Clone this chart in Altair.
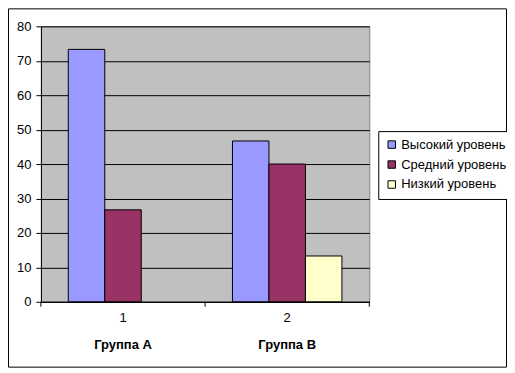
import altair as alt
import pandas as pd

groups = ["1", "2"]
group_names = ["Группа А", "Группа В"]
series = ["Высокий уровень", "Средний уровень", "Низкий уровень"]
values_a = [73.3, 26.7, 0.0]
values_b = [46.7, 40.0, 13.3]
colors = ["#9999FF", "#993366", "#FFFFCC"]
y_ticks = [0, 10, 20, 30, 40, 50, 60, 70, 80]

rows = []
for g, vals in zip(groups, [values_a, values_b]):
    for s, v in zip(series, vals):
        rows.append({"group": g, "series": s, "value": v})
df = pd.DataFrame(rows)
names_df = pd.DataFrame({"group": groups, "name": group_names})

W, H = 329, 276
PAD = {"left": 33, "top": 18, "right": 138, "bottom": 66}
FONT = "Liberation Sans"
FS = 13

x_enc = alt.X("group:N", sort=groups,
              scale=alt.Scale(paddingInner=0, paddingOuter=0),
              axis=alt.Axis(title=None, labelAngle=0, ticks=False, labelPadding=10,
                            domainColor="black", labelFont=FONT, labelFontSize=FS,
                            labelColor="black", grid=False))

bars = alt.Chart(df).transform_filter("datum.value > 0").mark_bar(
    stroke="black", strokeWidth=1).encode(
    x=x_enc,
    xOffset=alt.XOffset("series:N", sort=series,
                        scale=alt.Scale(domain=series, paddingOuter=0.75, paddingInner=0)),
    y=alt.Y("value:Q", scale=alt.Scale(domain=[0, 80], nice=False),
            axis=alt.Axis(title=None, values=y_ticks, tickSize=5, tickColor="black",
                          domainColor="black", gridColor="black", gridOpacity=1,
                          labelPadding=5, labelFont=FONT, labelFontSize=FS,
                          labelColor="black")),
    color=alt.Color("series:N", sort=series,
                    scale=alt.Scale(domain=series, range=colors),
                    legend=alt.Legend(title=None, orient="none", legendX=338, legendY=105,
                                      strokeColor="black", padding=7, fillColor="white",
                                      symbolType="square", symbolSize=56,
                                      symbolStrokeColor="black", symbolStrokeWidth=1,
                                      symbolOpacity=1, labelFont=FONT, labelFontSize=FS,
                                      labelColor="black", rowPadding=6, labelOffset=3)),
)

names = alt.Chart(names_df).mark_text(
    font=FONT, fontSize=FS, fontWeight="bold", baseline="top", color="black"
).encode(x=alt.X("group:N", sort=groups), y=alt.value(H + 37), text="name:N")

ticks = alt.Chart(names_df).mark_rule(color="black").encode(
    x=alt.X("group:N", sort=groups, bandPosition=0), y=alt.value(H), y2=alt.value(H + 5))

end_tick = alt.Chart(pd.DataFrame({"a": [0]})).mark_rule(color="black").encode(
    x=alt.value(W), y=alt.value(H), y2=alt.value(H + 5))

frame = alt.Chart(pd.DataFrame({"a": [0]})).mark_rect(
    fill=None, stroke="black", strokeWidth=1, clip=False
).encode(x=alt.value(-PAD["left"] + 0.5), x2=alt.value(W + PAD["right"] - 0.5),
         y=alt.value(-PAD["top"] + 0.5), y2=alt.value(H + PAD["bottom"] - 0.5))

chart = alt.layer(bars, names, ticks, end_tick, frame).properties(
    width=W, height=H, autosize=alt.AutoSizeParams(type="none"), padding=PAD,
    background="white",
).configure_view(fill="#C0C0C0", stroke="#808080", strokeWidth=1)

chart.save("out.html", embed_options={"renderer": "svg", "actions": False})
